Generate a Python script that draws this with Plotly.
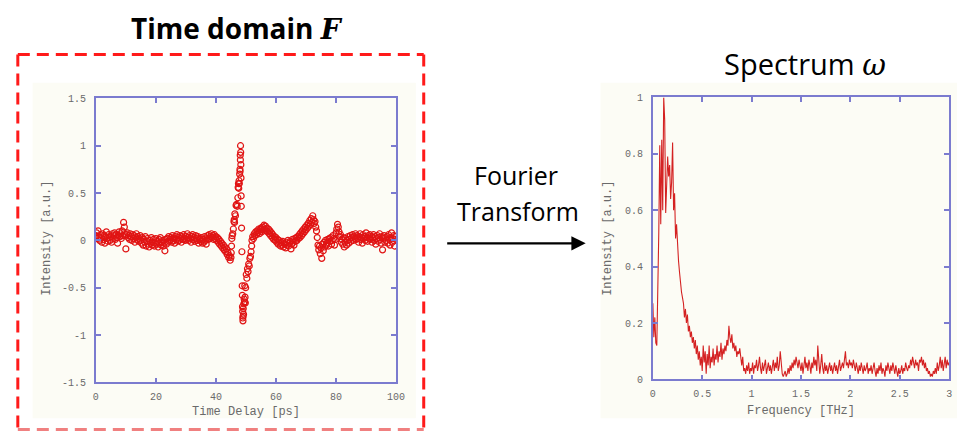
import numpy as np
import plotly.graph_objects as go

W, H = 969, 438

# ---------------- data: time domain (ps, a.u.) ----------------
pre_step = 0.25
pre_v = [
    0.05, 0.08, 0.02, 0.10, 0.04, 0.00, 0.06, 0.03, -0.02, 0.07, 0.01, 0.05, -0.03, 0.04, 0.09, 0.02, -0.01, 0.06, 0.03, 0.00,
    0.04, -0.02, 0.07, 0.02, 0.05, 0.08, 0.01, 0.06, 0.03, -0.03, 0.05, 0.09, 0.04, 0.07, 0.02, 0.10, 0.05, 0.19, 0.14, 0.06,
    -0.09, 0.06, 0.08, 0.03, 0.05, 0.01, 0.07, 0.04, 0.00, 0.06, 0.02, 0.05, -0.02, 0.03, 0.07, 0.01, 0.04, -0.01, 0.02, 0.05,
    0.00, -0.03, 0.03, -0.05, 0.01, -0.02, 0.04, -0.06, -0.01, 0.02, -0.04, -0.07, 0.00, -0.03, 0.03, -0.05, -0.02, 0.01, -0.06, -0.03,
    0.02, -0.04, -0.01, -0.07, 0.01, -0.03, 0.03, -0.05, -0.02, 0.00, -0.06, -0.03, -0.11, 0.01, -0.04, 0.02, -0.02, 0.04, -0.01, 0.01,
    0.03, -0.02, 0.05, 0.00, 0.02, -0.03, 0.04, 0.01, 0.06, -0.01, 0.03, 0.00, 0.05, 0.02, -0.02, 0.04, 0.01, 0.06, 0.02, 0.00,
    0.04, 0.01, 0.07, 0.03, 0.00, 0.05, 0.02, -0.02, 0.04, 0.06, 0.01, 0.03, -0.01, 0.05, 0.02, 0.00, 0.04, -0.03, 0.02, 0.01,
    -0.01, 0.03, -0.03, 0.01, -0.02, 0.04, 0.00, -0.04, 0.02, 0.05, 0.01, 0.06, 0.02, 0.04, 0.07, 0.03, 0.05, 0.01, 0.06, 0.02,
    0.04, 0.00, 0.03, -0.02, 0.01, -0.04, -0.01, -0.06, -0.03, -0.08, -0.05, -0.10,
    -0.07, -0.12, -0.09, -0.15, -0.13, -0.18, -0.16, -0.21,
]
pulse_t = [45.0, 45.1, 45.2, 45.3, 45.4, 45.6, 45.8, 46.0, 46.1, 46.2, 46.3, 46.5, 46.7, 46.9, 47.1, 47.3, 47.4, 47.5,
           47.6, 47.7, 47.8, 47.9, 48.0, 48.05, 48.1, 48.15, 48.2, 48.25, 48.3, 48.35, 48.4, 48.45, 48.55, 48.65,
           48.75, 48.8, 48.85, 48.9, 48.95, 49.0, 49.05, 49.1, 49.2, 49.3, 49.4, 49.5, 49.6, 49.7, 49.8, 49.9,
           50.1, 50.3, 50.5, 50.7, 50.9, 51.1, 51.3, 51.5, 51.7, 51.9]
pulse_v = [-0.18, -0.13, -0.06, 0.02, 0.05, 0.07, 0.12, 0.20, 0.22, 0.19, 0.28, 0.26, 0.37, 0.38, 0.36, 0.45, 0.56, 0.60,
           0.55, 0.63, 0.60, 0.70, 0.75, 0.73, 0.90, 0.85, 1.00, 0.93, 0.80, 0.66, 0.47, 0.36, 0.13, -0.12,
           -0.48, -0.58, -0.70, -0.75, -0.82, -0.85, -0.80, -0.72, -0.78, -0.67, -0.62, -0.65, -0.48, -0.60, -0.66, -0.50,
           -0.36, -0.40, -0.30, -0.33, -0.25, -0.27, -0.19, -0.17, -0.12, -0.06]
post_start = 52.0
post_v = [
    0.00, 0.04, 0.02, 0.07, 0.05, 0.09, 0.06, 0.10, 0.08, 0.12, 0.07, 0.11, 0.13, 0.09, 0.14, 0.11, 0.16, 0.12, 0.15, 0.10,
    0.13, 0.09, 0.12, 0.07, 0.10, 0.05, 0.08, 0.03, 0.06, 0.01, 0.04, 0.00, 0.03, -0.02, 0.01, -0.04, 0.00, -0.03, -0.06, -0.02,
    -0.05, -0.01, -0.07, -0.03, -0.04, -0.08, -0.02, -0.05, 0.00, -0.06, -0.03, -0.01, -0.09, -0.04, 0.01, -0.02, -0.05, 0.02, -0.01, 0.03,
    0.00, 0.04, 0.02, 0.06, 0.03, 0.08, 0.05, 0.10, 0.07, 0.12, 0.09, 0.14, 0.11, 0.16, 0.13, 0.18, 0.15, 0.21, 0.17, 0.23,
    0.19, 0.26, 0.22, 0.18, 0.20, 0.14, 0.10, 0.03, -0.05, -0.10, -0.06, -0.14, -0.08, -0.19, -0.04, -0.11, -0.02, -0.07, 0.00, -0.05,
    -0.03, 0.01, -0.06, 0.02, -0.01, 0.03, -0.04, 0.00, 0.05, 0.02, -0.05, 0.01, 0.08, 0.12, 0.17, 0.14, 0.09, 0.04, 0.06, -0.02,
    0.01, -0.04, 0.03, -0.07, -0.02, 0.02, -0.05, 0.00, 0.04, -0.03, 0.01, 0.05, -0.01, 0.03, 0.06, 0.00, 0.04, 0.02, 0.07, 0.01,
    0.05, 0.02, -0.02, 0.04, 0.07, 0.01, 0.03, -0.03, 0.06, 0.02, 0.04, 0.00, 0.08, 0.03, -0.01, 0.05, 0.02, 0.06, 0.01, 0.04,
    -0.02, 0.03, 0.06, 0.00, 0.04, -0.04, 0.02, 0.05, -0.01, 0.03, 0.07, 0.01, -0.03, 0.04, -0.10, 0.02, 0.05, -0.02, 0.03, 0.00,
    0.04, -0.03, 0.06, 0.01, -0.05, 0.03, 0.08, -0.02, 0.02, 0.05, -0.06, 0.04, 0.01,
]

# ---------------- data: spectrum (THz, a.u.) ----------------
freq_step = 0.01
spec_v = [
    0.27, 0.15, 0.22, 0.13, 0.12, 0.30, 0.52, 0.83, 0.55, 0.85, 0.60, 1.00, 0.92, 0.59, 0.70, 0.79, 0.72, 0.76, 0.64, 0.70,
    0.84, 0.60, 0.66, 0.50, 0.55, 0.47, 0.42, 0.38, 0.33, 0.31, 0.29, 0.27, 0.22, 0.25, 0.20, 0.23, 0.17, 0.19, 0.15, 0.17,
    0.13, 0.15, 0.11, 0.14, 0.09, 0.12, 0.07, 0.10, 0.05, 0.08, 0.03, 0.12, 0.06, 0.10, 0.02, 0.09, 0.05, 0.12, 0.04, 0.08,
    0.06, 0.11, 0.05, 0.09, 0.07, 0.12, 0.06, 0.10, 0.08, 0.13, 0.07, 0.11, 0.09, 0.12, 0.10, 0.14, 0.12, 0.19, 0.15, 0.13,
    0.16, 0.11, 0.13, 0.10, 0.12, 0.08, 0.10, 0.09, 0.11, 0.07, 0.05, 0.08, 0.03, 0.04, 0.02, 0.05, 0.03, 0.06, 0.02, 0.04,
    0.03, 0.06, 0.02, 0.05, 0.04, 0.07, 0.03, 0.05, 0.08, 0.04, 0.02, 0.06, 0.03, 0.05, 0.07, 0.02, 0.04, 0.06, 0.03, 0.05,
    0.02, 0.04, 0.07, 0.03, 0.06, 0.04, 0.08, 0.03, 0.05, 0.10, 0.04, 0.02, 0.01, 0.02, 0.03, 0.01, 0.02, 0.04, 0.02, 0.05,
    0.03, 0.06, 0.04, 0.07, 0.05, 0.08, 0.06, 0.04, 0.07, 0.05, 0.03, 0.06, 0.02, 0.05, 0.08, 0.04, 0.06, 0.03, 0.07, 0.05,
    0.02, 0.06, 0.04, 0.08, 0.05, 0.07, 0.03, 0.12, 0.06, 0.02, 0.05, 0.09, 0.04, 0.02, 0.06, 0.03, 0.05, 0.02, 0.04, 0.06,
    0.03, 0.05, 0.02, 0.04, 0.06, 0.03, 0.05, 0.02, 0.04, 0.07, 0.03, 0.05, 0.06, 0.04, 0.07, 0.10, 0.05, 0.06, 0.04, 0.07,
    0.05, 0.06, 0.04, 0.07, 0.05, 0.03, 0.06, 0.04, 0.02, 0.05, 0.03, 0.06, 0.04, 0.02, 0.05, 0.03, 0.04, 0.06, 0.02, 0.04,
    0.03, 0.05, 0.02, 0.04, 0.06, 0.03, 0.01, 0.04, 0.02, 0.05, 0.03, 0.06, 0.02, 0.04, 0.03, 0.01, 0.05, 0.03, 0.06, 0.04,
    0.02, 0.05, 0.03, 0.06, 0.04, 0.02, 0.05, 0.03, 0.01, 0.04, 0.02, 0.03, 0.05, 0.02, 0.04, 0.03, 0.06, 0.04, 0.03, 0.05,
    0.04, 0.07, 0.05, 0.08, 0.06, 0.04, 0.07, 0.05, 0.06, 0.03, 0.07, 0.06, 0.08, 0.05, 0.07, 0.04, 0.06, 0.03, 0.04, 0.02,
    0.03, 0.01, 0.02, 0.01, 0.03, 0.02, 0.04, 0.02, 0.06, 0.03, 0.05, 0.08, 0.04, 0.07, 0.03, 0.06, 0.08, 0.04, 0.07, 0.05,
    0.06,
]

# ---------------- tick labels ----------------
left_xticks = [0, 20, 40, 60, 80, 100]
left_xtext = ["0", "20", "40", "60", "80", "100"]
left_yticks = [-1.5, -1, -0.5, 0, 0.5, 1, 1.5]
left_ytext = ["-1.5", "-1", "-0.5", "0", "0.5", "1", "1.5"]
right_xticks = [0, 0.5, 1, 1.5, 2, 2.5, 3]
right_xtext = ["0", "0.5", "1", "1.5", "2", "2.5", "3"]
right_yticks = [0, 0.2, 0.4, 0.6, 0.8, 1]
right_ytext = ["0", "0.2", "0.4", "0.6", "0.8", "1"]

# ---------------- assemble ----------------
pre_t = list(np.arange(len(pre_v)) * pre_step)
post_t = list(post_start + np.arange(len(post_v)) * pre_step)
time_t = pre_t + pulse_t + post_t
time_v = pre_v + pulse_v + post_v
freq = list(np.arange(len(spec_v)) * freq_step)


def px(x):
    return x / W


def py(y):
    return 1 - y / H


FRAME = "#7b7bcf"
TICKFONT = dict(family="Liberation Mono, DejaVu Sans Mono, monospace", size=10, color="#6a6a6a")
TITLEFONT = dict(family="Liberation Mono, DejaVu Sans Mono, monospace", size=12, color="#6a6a6a")
BG = "#fcfcf5"
SANS = "Open Sans, Lato, sans-serif"

fig = go.Figure()
fig.add_trace(go.Scatter(
    x=time_t, y=time_v, mode="markers", xaxis="x", yaxis="y",
    marker=dict(symbol="circle-open", size=6, color="#e01414", line=dict(width=1.2, color="#e01414")),
    showlegend=False, hoverinfo="skip"))
fig.add_trace(go.Scatter(
    x=freq, y=spec_v, mode="lines", xaxis="x2", yaxis="y2",
    line=dict(color="#d42222", width=1.1),
    showlegend=False, hoverinfo="skip"))

axis_common = dict(showline=True, mirror="allticks", linecolor=FRAME, linewidth=1.5,
                   ticks="inside", ticklen=5, tickwidth=1.5, tickcolor=FRAME,
                   showgrid=False, zeroline=False, tickfont=TICKFONT, fixedrange=True)

fig.update_layout(
    width=W, height=H,
    margin=dict(l=0, r=0, t=0, b=0),
    paper_bgcolor="white",
    plot_bgcolor=BG,
    xaxis=dict(domain=[px(94), px(398)], range=[0, 100], anchor="y",
               tickvals=left_xticks, ticktext=left_xtext, ticklabelstandoff=4, **axis_common),
    yaxis=dict(domain=[py(388), py(96)], range=[-1.5, 1.5], anchor="x",
               tickvals=left_yticks, ticktext=left_ytext, ticklabelstandoff=6, **axis_common),
    xaxis2=dict(domain=[px(658), px(958)], range=[0, 3], anchor="y2",
                tickvals=right_xticks, ticktext=right_xtext, ticklabelstandoff=4, **axis_common),
    yaxis2=dict(domain=[py(385), py(95)], range=[0, 1], anchor="x2",
                tickvals=right_yticks, ticktext=right_ytext, ticklabelstandoff=6, **axis_common),
)

shapes = [
    # faint backgrounds of the embedded plots
    dict(type="rect", xref="paper", yref="paper", x0=px(30), x1=px(418), y0=py(425), y1=py(80),
         fillcolor=BG, line=dict(width=0), layer="below"),
    dict(type="rect", xref="paper", yref="paper", x0=px(605), x1=px(966), y0=py(425), y1=py(80),
         fillcolor=BG, line=dict(width=0), layer="below"),
]
dash = "12px,7px"
red = "#ff1a1a"
for (x0, y0, x1, y1, c) in [(15, 51, 426, 51, red), (15, 51, 15, 438, red), (426, 51, 426, 438, red),
                            (15, 436.5, 426, 436.5, "#f08080")]:
    shapes.append(dict(type="line", xref="paper", yref="paper", x0=px(x0), y0=py(y0), x1=px(x1), y1=py(y1),
                       line=dict(color=c, width=3, dash=dash)))
fig.update_layout(shapes=shapes)


def label(x, y, text, font, angle=0):
    return dict(x=px(x), y=py(y), xref="paper", yref="paper", showarrow=False, text=text,
                xanchor="center", yanchor="middle", textangle=angle, font=font)


ann = [
    label(237, 24, "<b>Time domain </b><b><i><span style='font-family:DejaVu Serif'>F</span></i></b>",
          dict(family=SANS, size=28, color="black")),
    label(812, 60, "Spectrum <i><span style='font-family:DejaVu Serif'>ω</span></i>",
          dict(family=SANS, size=29, color="black")),
    label(519, 175, "Fourier", dict(family=SANS, size=25, color="black")),
    label(521, 212, "Transform", dict(family=SANS, size=25, color="black")),
    label(246, 418, "Time Delay [ps]", TITLEFONT),
    label(45, 240, "Intensity [a.u.]", TITLEFONT, -90),
    label(808, 417, "Frequency [THz]", TITLEFONT),
    label(613, 240, "Intensity [a.u.]", TITLEFONT, -90),
    dict(x=px(590), y=py(245), ax=-140, ay=0, xref="paper", yref="paper",
         axref="pixel", ayref="pixel", showarrow=True, text="",
         arrowhead=2, arrowsize=1.3, arrowwidth=2.2, arrowcolor="black"),
]
fig.update_layout(annotations=ann)

fig.write_html("out.html")
